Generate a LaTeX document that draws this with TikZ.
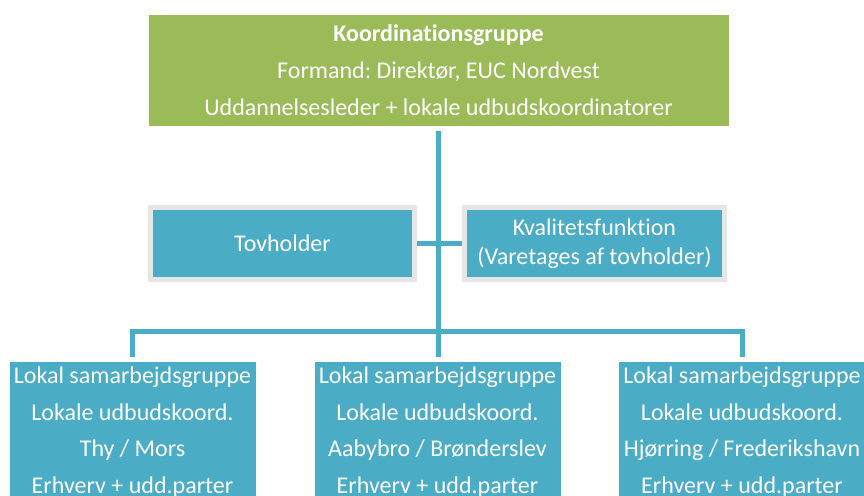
\documentclass[tikz,border=0pt]{standalone}
\usepackage{fontspec}
\setmainfont{Carlito}[Ligatures=NoCommon]
\frenchspacing
\definecolor{groen}{HTML}{9BBB59}
\definecolor{blaa}{HTML}{4BACC6}
\definecolor{kant}{HTML}{E6E6E6}

\begin{document}
\begin{tikzpicture}[x=1pt, y=-1pt,
    hoved/.style={fill=groen, text=white, align=center, minimum width=580pt, minimum height=111pt, font=\fontsize{24}{37}\selectfont},
    mellem/.style={draw=kant, line width=5pt, fill=blaa, text=white, align=center, minimum height=72pt, font=\fontsize{24}{29}\selectfont},
    lokal/.style={fill=blaa, text=white, align=center, minimum width=246pt, minimum height=140pt, font=\fontsize{24}{36.5}\selectfont},
    link/.style={draw=blaa, line width=5pt}]

    \useasboundingbox (0,0) rectangle (864,495);
    \clip (0,0) rectangle (864,495);

    % kasser
    \node[hoved] (koord) at (438.5, 70.5) {\textbf{Koordinationsgruppe}\\Formand: Direktør, EUC Nordvest\\Uddannelsesleder + lokale udbudskoordinatorer};
    \node[mellem, minimum width=264pt] (tov) at (282.5, 243.5) {Tovholder};
    \node[mellem, minimum width=260pt] (kval) at (594.5, 243.5) {Kvalitetsfunktion\\(Varetages af tovholder)};
    \node[lokal] (thy) at (132.5, 432) {Lokal samarbejdsgruppe\\Lokale udbudskoord.\\Thy / Mors\\Erhverv + udd.parter};
    \node[lokal] (aab) at (437.5, 432) {Lokal samarbejdsgruppe\\Lokale udbudskoord.\\Aabybro / Brønderslev\\Erhverv + udd.parter};
    \node[lokal] (hjr) at (742, 432) {Lokal samarbejdsgruppe\\Lokale udbudskoord.\\Hjørring / Frederikshavn\\Erhverv + udd.parter};

    \coordinate (hub) at (438.5, 331);

    % linjer
    \draw[link, shorten <=5pt] (koord) -- (hub);
    \draw[link] (tov) -- (kval);
    \draw[link, shorten <=5pt, shorten >=5pt] (thy) |- (hub) -| (hjr);
    \draw[link, shorten >=5pt] (hub) -- (aab);

\end{tikzpicture}
\end{document}
